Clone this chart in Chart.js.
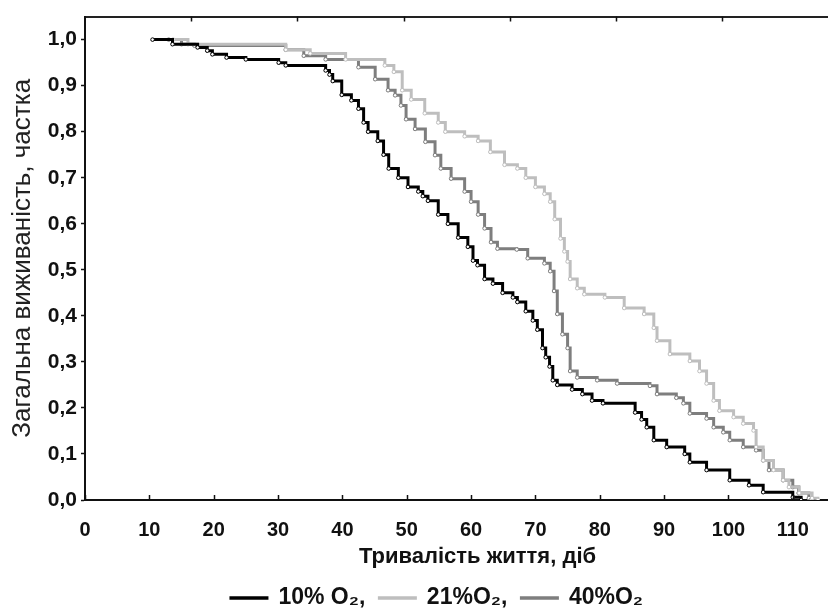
<!DOCTYPE html>
<html>
<head>
<meta charset="utf-8">
<script src="https://cdn.jsdelivr.net/npm/chart.js@4.4.1/dist/chart.umd.min.js"></script>
<style>
  html, body { margin: 0; padding: 0; background: #fff; overflow: hidden; }
  #wrap { width: 828px; height: 615px; overflow: hidden; }
</style>
</head>
<body>
<div id="wrap"><canvas id="graficoSobrevivencia" width="874" height="615"></canvas></div>
<script>
// eixos
const xTicks = [0, 10, 20, 30, 40, 50, 60, 70, 80, 90, 100, 110];
const topTicks = [16.5, 33, 49.5, 66, 82.5, 99];
const yTicks = [0, 0.1, 0.2, 0.3, 0.4, 0.5, 0.6, 0.7, 0.8, 0.9, 1.0];
const nomes = ['10% O₂,', '21%O₂,', '40%O₂'];

// 10% O2 (preta)
const dias10 = [10.5, 13.6, 17.5, 19, 19.8, 22, 25, 30.1, 31.2, 37.4, 38, 38.5, 39.9, 41.4, 42.5, 43.3, 44, 45.5, 46.4, 47.2,
  48.7, 50.2, 51.8, 52.5, 53.3, 54.9, 56.4, 58, 59.5, 60.3, 61, 62.1, 63.4, 64.9, 66.5, 67.2, 68.5, 69.6, 70.3, 71.1,
  71.6, 72.2, 72.7, 73.4, 75.7, 77.3, 78.8, 80.5, 85.5, 86.5, 87.3, 88.4, 90.4, 93.2, 94, 96.6, 100.2, 103.2, 105.4, 110, 111.3];
const surv10 = [1.0, 0.99, 0.983, 0.976, 0.968, 0.961, 0.957, 0.95, 0.944, 0.933, 0.924, 0.91, 0.88, 0.868, 0.85, 0.82, 0.80, 0.78, 0.75, 0.72,
  0.70, 0.68, 0.67, 0.66, 0.65, 0.62, 0.60, 0.57, 0.55, 0.52, 0.51, 0.48, 0.47, 0.45, 0.44, 0.43, 0.41, 0.39, 0.37, 0.33,
  0.31, 0.29, 0.26, 0.25, 0.24, 0.23, 0.216, 0.21, 0.19, 0.175, 0.158, 0.13, 0.115, 0.10, 0.082, 0.065, 0.043, 0.032, 0.017, 0.006, 0];

// 21% O2 (cinza claro)
const dias21 = [13.7, 16, 31.2, 35, 40.5, 46.6, 48, 49.3, 50.7, 52.8, 54.9, 56, 59, 61.1, 63, 65.2, 67.2, 68.5, 70, 71.4,
  72.3, 73, 73.9, 74.5, 75, 75.4, 76.5, 77.6, 80.8, 83.8, 86.9, 88.4, 88.9, 90.9, 94, 95.5, 96.6, 97.7, 98.6, 100.8,
  102.3, 103.9, 104.3, 105.4, 107, 108.5, 109.4, 111, 113, 113.9];
const surv21 = [1.0, 0.99, 0.978, 0.97, 0.957, 0.944, 0.93, 0.89, 0.87, 0.84, 0.82, 0.80, 0.79, 0.78, 0.756, 0.728, 0.72, 0.70, 0.68, 0.665,
  0.648, 0.61, 0.568, 0.54, 0.518, 0.48, 0.46, 0.447, 0.44, 0.417, 0.404, 0.374, 0.346, 0.317, 0.302, 0.28, 0.253, 0.216, 0.194, 0.18,
  0.166, 0.151, 0.115, 0.086, 0.065, 0.043, 0.028, 0.015, 0.004, 0];

// 40% O2 (cinza medio)
const dias40 = [13, 15, 17, 31.2, 34, 37.4, 42.5, 45.1, 47.1, 48.2, 49.1, 49.9, 51.3, 52.9, 54.4, 55.3, 56.9, 59, 60, 61.1,
  62.1, 63.1, 64.1, 67.1, 68.8, 71.4, 72.3, 72.9, 73.4, 74.2, 75, 75.4, 76.5, 79.6, 82.7, 87.8, 88.9, 91.9, 93, 94,
  96.6, 97.7, 99.2, 100.2, 102.3, 104.3, 105.4, 106.3, 108.5, 110, 110.9, 112.5, 112.8];
const surv40 = [1.0, 0.99, 0.987, 0.978, 0.965, 0.957, 0.94, 0.914, 0.89, 0.879, 0.857, 0.827, 0.806, 0.778, 0.749, 0.72, 0.698, 0.67, 0.648, 0.62,
  0.59, 0.56, 0.546, 0.544, 0.525, 0.514, 0.497, 0.454, 0.404, 0.36, 0.33, 0.28, 0.266, 0.26, 0.253, 0.248, 0.23, 0.222, 0.21, 0.188,
  0.177, 0.158, 0.147, 0.13, 0.115, 0.108, 0.086, 0.065, 0.043, 0.028, 0.015, 0.004, 0];

const cores = ['#000000', '#bebebe', '#7e7e7e'];
const fonte = "'Liberation Sans', Arial, sans-serif";

const pontos = (dias, surv) => dias.map((d, i) => ({ x: d, y: surv[i] }));

function serie(label, data, cor) {
  return {
    label: label,
    data: data,
    borderColor: cor,
    backgroundColor: cor,
    borderWidth: 3,
    stepped: true,
    fill: false,
    pointRadius: 1.8,
    pointBorderWidth: 1,
    pointBackgroundColor: '#fff',
    pointBorderColor: cor,
    pointHoverRadius: 3
  };
}

// marcas de divisao voltadas para dentro (eixo inferior e superior)
const marcasInternas = {
  id: 'marcasInternas',
  afterDraw(chart) {
    const { ctx, chartArea, scales } = chart;
    ctx.save();
    ctx.strokeStyle = '#111';
    ctx.lineWidth = 1.5;
    ctx.beginPath();
    xTicks.forEach(v => {
      const px = Math.round(scales.x.getPixelForValue(v)) + 0.5;
      ctx.moveTo(px, chartArea.bottom);
      ctx.lineTo(px, chartArea.bottom - 5);
    });
    topTicks.forEach(v => {
      const px = Math.round(scales.x.getPixelForValue(v)) + 0.5;
      ctx.moveTo(px, chartArea.top);
      ctx.lineTo(px, chartArea.top + 5);
    });
    ctx.stroke();
    ctx.restore();
  }
};

const ctx = document.getElementById('graficoSobrevivencia');
new Chart(ctx, {
  type: 'line',
  data: {
    datasets: [
      serie(nomes[0], pontos(dias10, surv10), cores[0]),
      serie(nomes[1], pontos(dias21, surv21), cores[1]),
      serie(nomes[2], pontos(dias40, surv40), cores[2])
    ]
  },
  options: {
    responsive: false,
    animation: false,
    devicePixelRatio: 1,
    layout: { padding: { top: 13, right: 0, bottom: -4.5, left: 0 } },
    plugins: {
      legend: {
        position: 'bottom',
        labels: {
          boxWidth: 36,
          boxHeight: 0.5,
          padding: 14,
          color: '#111',
          font: { family: fonte, size: 23, weight: 'bold' }
        }
      },
      tooltip: { enabled: false }
    },
    scales: {
      x: {
        type: 'linear',
        position: 'bottom',
        min: 0,
        max: 122,
        afterBuildTicks: s => { s.ticks = xTicks.map(v => ({ value: v })); },
        afterFit: s => { s.height = 72.5; },
        ticks: {
          color: '#111',
          padding: 10,
          autoSkip: false,
          maxRotation: 0,
          font: { family: fonte, size: 20, weight: 'bold' }
        },
        grid: { display: false },
        border: { display: true, color: '#111', width: 2 },
        title: {
          display: true,
          text: 'Тривалість життя, діб',
          color: '#111',
          padding: { top: 0, bottom: 2.3 },
          font: { family: fonte, size: 22, weight: 'bold' }
        }
      },
      xTopo: {
        type: 'linear',
        position: 'top',
        min: 0,
        max: 122,
        afterFit: s => { s.height = 0; },
        ticks: { display: false },
        grid: { display: false },
        border: { display: true, color: '#222', width: 2 }
      },
      y: {
        min: 0,
        max: 1.05,
        afterBuildTicks: s => { s.ticks = yTicks.map(v => ({ value: v })); },
        afterFit: s => { s.width = 85; },
        ticks: {
          color: '#111',
          padding: 4,
          callback: v => v.toFixed(1).replace('.', ','),
          font: { family: fonte, size: 21, weight: 'bold' }
        },
        grid: { drawOnChartArea: false, drawTicks: true, tickLength: 4, tickColor: '#111', tickWidth: 1.5 },
        border: { display: true, color: '#111', width: 2 },
        title: {
          display: true,
          text: 'Загальна виживаність, частка',
          color: '#222',
          padding: { top: 7, bottom: 0 },
          font: { family: fonte, size: 26, weight: 'normal' }
        }
      }
    }
  },
  plugins: [marcasInternas]
});
</script>
</body>
</html>
